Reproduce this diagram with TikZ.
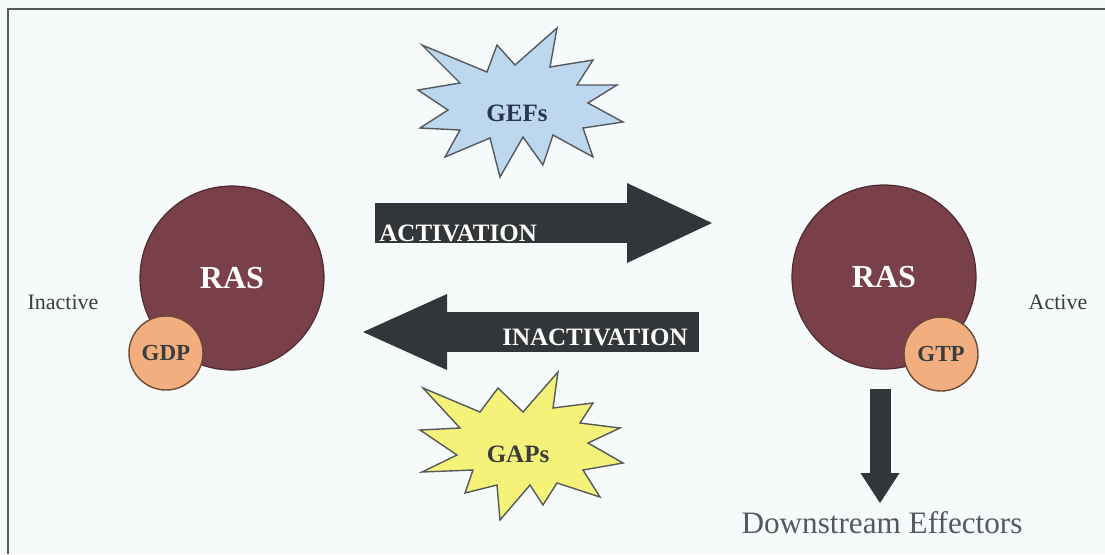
\documentclass[tikz,border=0pt]{standalone}
\usepackage{fontspec}
\setmainfont{Liberation Serif}
\usetikzlibrary{arrows.meta}
\definecolor{pageBg}{HTML}{F7FAFB}
\definecolor{frameGray}{HTML}{55595C}
\definecolor{rasRed}{HTML}{7A404A}
\definecolor{rasEdge}{HTML}{4E2A31}
\definecolor{nucOrange}{HTML}{F2AE7E}
\definecolor{nucEdge}{HTML}{6B4A35}
\definecolor{gefBlue}{HTML}{BDD7EE}
\definecolor{gapYellow}{HTML}{F5F27A}
\definecolor{arrowDark}{HTML}{333638}
\definecolor{labelDark}{HTML}{3A3C3E}
\definecolor{gefText}{HTML}{2B3550}
\definecolor{effGray}{HTML}{55585C}

\begin{document}
\begin{tikzpicture}[
    x=0.5pt, y=-0.5pt,
    ras/.style={circle, draw=rasEdge, fill=rasRed, line width=0.6pt,
                minimum size=92pt, inner sep=0pt, text=white,
                font=\fontsize{16}{18}\selectfont\bfseries},
    nuc/.style={circle, draw=nucEdge, fill=nucOrange, line width=0.7pt,
                minimum size=37pt, inner sep=0pt, text=labelDark,
                font=\fontsize{11.5}{13}\selectfont\bfseries},
    burst/.style={draw=frameGray, line width=0.7pt, line join=miter},
    burstlabel/.style={font=\fontsize{12.5}{14}\selectfont\bfseries, inner sep=0pt},
    state/.style={font=\fontsize{11}{13}\selectfont, text=labelDark, inner sep=0pt},
    bigarrow/.style={draw=arrowDark, line width=20pt,
                     -{Triangle[length=42.5pt, width=40pt, line width=0pt]}},
    arrowlabel/.style={font=\fontsize{12.5}{14}\selectfont\bfseries,
                       text=white, inner sep=0pt},
]
\useasboundingbox (0,0) rectangle (1105,554);
\fill[pageBg] (0,0) rectangle (1105,554);
\draw[frameGray, line width=1pt] (8,554) |- (1105,9);

% the two states of RAS
\node[ras] (rasoff) at (232,278) {RAS};
\node[nuc] (gdp) at (166,353) {GDP};
\node[ras] (rason) at (884,277) {RAS};
\node[nuc] (gtp) at (941,354) {GTP};
\node[state] (inactive) at (63,302) {Inactive};
\node[state] (active) at (1058,302) {Active};

% exchange factors
\draw[burst, fill=gefBlue] (422,45) -- (487,72) -- (497,45) -- (515,65)
    -- (557,28) -- (550,67) -- (593,60) -- (577,85) -- (617,85) -- (588,103)
    -- (623,122) -- (583,128) -- (593,157) -- (553,135) -- (543,165)
    -- (523,137) -- (500,177) -- (490,138) -- (445,157) -- (460,130)
    -- (420,128) -- (448,110) -- (418,90) -- (460,83) -- cycle;
\node[burstlabel, text=gefText] (gefs) at (517,113) {GEFs};

\draw[burst, fill=gapYellow] (423,388) -- (480,412) -- (498,388) -- (523,412)
    -- (558,372) -- (553,408) -- (593,403) -- (580,423) -- (620,428)
    -- (588,443) -- (623,463) -- (583,470) -- (600,497) -- (557,483)
    -- (543,505) -- (530,485) -- (500,520) -- (497,485) -- (465,493)
    -- (473,470) -- (422,472) -- (457,455) -- (420,430) -- (460,428) -- cycle;
\node[burstlabel, text=labelDark] (gaps) at (518,454) {GAPs};

% switching arrows
\coordinate (actA) at (375,223);
\coordinate (actB) at (712,223);
\coordinate (inaA) at (699,332);
\coordinate (inaB) at (363,332);
\draw[bigarrow] (actA) -- (actB);
\draw[bigarrow, -{Triangle[length=42pt, width=38pt, line width=0pt]}] (inaA) -- (inaB);
\node[arrowlabel, anchor=base west] (actlbl) at (379,241) {ACTIVATION};
\node[arrowlabel, anchor=base east] (inalbl) at (688,345) {INACTIVATION};

% signal out of the active form
\node[font=\fontsize{15.6}{18}\selectfont, text=effGray, anchor=base,
      inner sep=0pt] (effectors) at (882,533) {Downstream Effectors};
\coordinate (downA) at (880,389);
\coordinate (downB) at (880,503);
\draw[draw=arrowDark, line width=10.5pt,
      -{Triangle[length=15pt, width=19.5pt, line width=0pt]}]
    (downA) -- (downB);
\end{tikzpicture}
\end{document}
